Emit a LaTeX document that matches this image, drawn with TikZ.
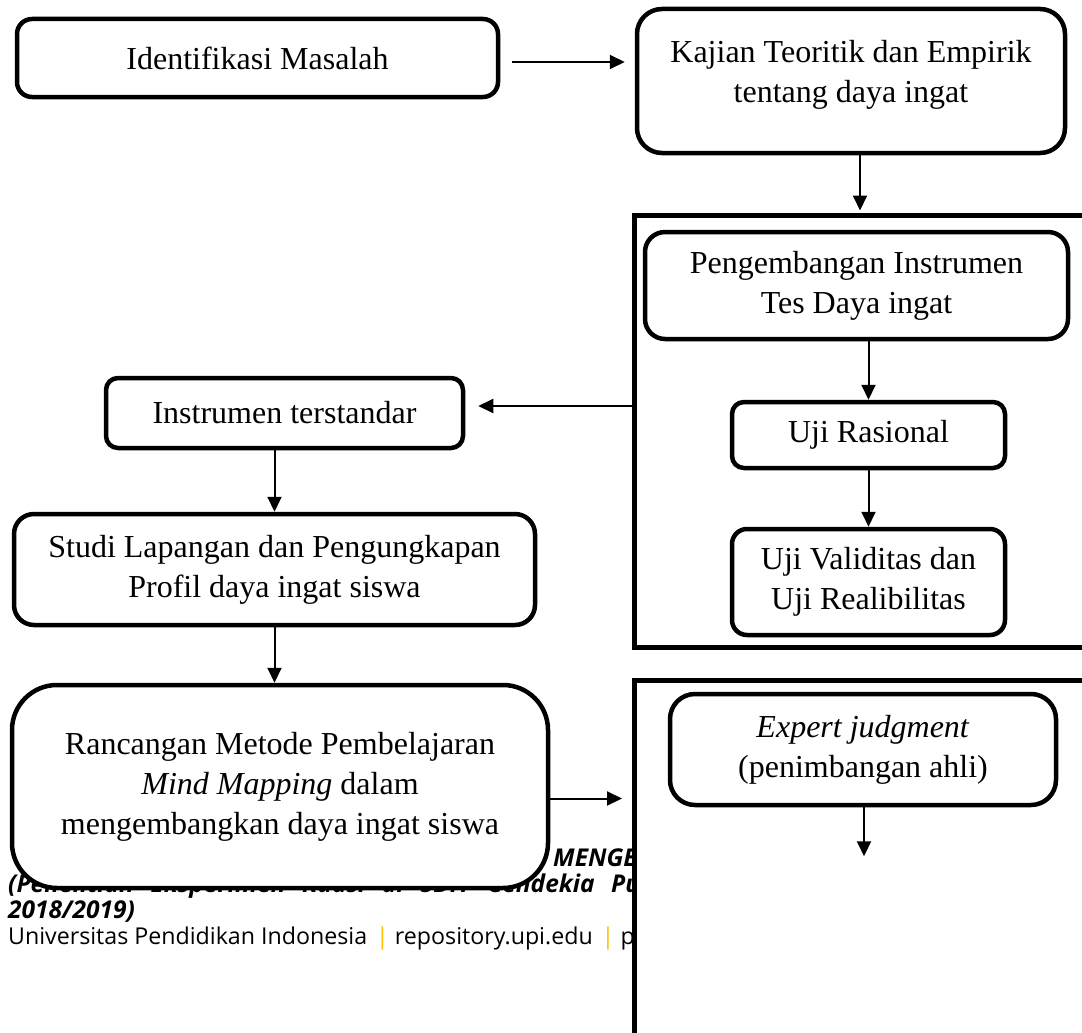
\documentclass[tikz,border=0pt]{standalone}
\usepackage{fontspec}
\setmainfont{Liberation Serif}
\newfontfamily\footfont{Open Sans}
\usetikzlibrary{arrows.meta,calc}
\definecolor{pipeyellow}{HTML}{FFC000}
\begin{document}
\begin{tikzpicture}[x=1pt,y=-1pt,
  box/.style={draw, line width=4.5pt, fill=white, align=center, inner sep=0pt, font=\fontsize{32}{40}\selectfont},
  txt/.style={align=center, inner sep=0pt, font=\fontsize{32}{40}\selectfont},
  frame/.style={draw, line width=5pt, fill=white, inner sep=0pt},
  arr/.style={line width=2pt, -{Triangle[length=15pt,width=14pt]}},
  foot/.style={anchor=base west, inner sep=0pt, font=\footfont\fontsize{23.2}{27}\selectfont},
  footbi/.style={anchor=base west, inner sep=0pt, font=\footfont\bfseries\itshape\fontsize{24.5}{28}\selectfont}]
\useasboundingbox (0,0) rectangle (1082,1033);
\clip (0,0) rectangle (1082,1033);
\fill[white] (0,0) rectangle (1082,1033);

% footer text (partly hidden by the boxes drawn afterwards)
\node[footbi] (t1) at (553,866) {MENGEMBANGKAN};
\node[footbi] (t2) at (8,892) {\makebox[632pt][s]{(Penelitian Eksperimen Kuasi di SDIT Cendekia Pu}};
\node[footbi] (t3) at (8,918) {2018/2019)};
\node[foot] (t4) at (8,944) {Universitas Pendidikan Indonesia\hspace{9pt}\textcolor{pipeyellow}{|}\hspace{6pt}repository.upi.edu\hspace{9pt}\textcolor{pipeyellow}{|}\hspace{6pt}perpustakaan.upi.edu};

% top row
\node[box, rounded corners=15pt, minimum width=481pt, minimum height=78pt] (A) at (257.5,58) {Identifikasi Masalah};
\node[box, rounded corners=25pt, minimum width=428pt, minimum height=144pt] (B) at (851,81) {};
\node[txt, anchor=north] (Bt) at (851,40) {Kajian Teoritik dan Empirik\\tentang daya ingat};

% container 1
\node[frame, minimum width=465pt, minimum height=432pt] (C1) at (867,431.5) {};
\node[box, rounded corners=20pt, minimum width=423pt, minimum height=107pt] (C) at (856.5,285.5) {Pengembangan Instrumen\\Tes Daya ingat};
\node[box, rounded corners=12pt, minimum width=273pt, minimum height=66pt] (D) at (868.5,435) {Uji Rasional};
\node[box, rounded corners=15pt, minimum width=273pt, minimum height=106pt] (E) at (868.5,582) {Uji Validitas dan\\Uji Realibilitas};

% left column
\node[box, rounded corners=12pt, minimum width=357pt, minimum height=70pt] (F) at (284.5,413) {Instrumen terstandar};
\node[box, rounded corners=20pt, minimum width=521pt, minimum height=111pt] (G) at (274.5,569.5) {Studi Lapangan dan Pengungkapan\\Profil daya ingat siswa};
\node[box, rounded corners=45pt, minimum width=536pt, minimum height=203pt] (H) at (280,786.5) {Rancangan Metode Pembelajaran\\\textit{Mind Mapping} dalam\\mengembangkan daya ingat siswa};

% container 2
\node[frame, minimum width=465pt, minimum height=420pt] (C2) at (867,890) {};
\node[box, rounded corners=25pt, minimum width=386pt, minimum height=111pt] (I) at (863,749.5) {\textit{Expert judgment}\\(penimbangan ahli)};

% connectors
\coordinate (aout) at ($(A.east)+(12,4)$);
\draw[arr] (aout) -- ($(aout -| B.west)+(-10,0)$);
\coordinate (bx) at ($(B.south)+(9,0)$);
\draw[arr, shorten >=2.5pt] (bx) -- (bx |- C1.north);
\draw[arr] (D.north |- C.south) -- (D.north);
\draw[arr] (D.south) -- (E.north);
\coordinate (fin) at ($(F.east)+(13,-7)$);
\draw[arr] (C1.west |- fin) -- (fin);
\draw[arr] (G.north |- F.south) -- (G.north);
\draw[arr] (G.south) -- (G.south |- H.north);
\coordinate (hout) at ($(H.east)+(0,12)$);
\draw[arr, shorten >=10pt] (hout) -- (hout -| C2.west);
\coordinate (iend) at ($(I.south)+(1,49)$);
\draw[arr] (I.south -| iend) -- (iend);
\end{tikzpicture}
\end{document}
